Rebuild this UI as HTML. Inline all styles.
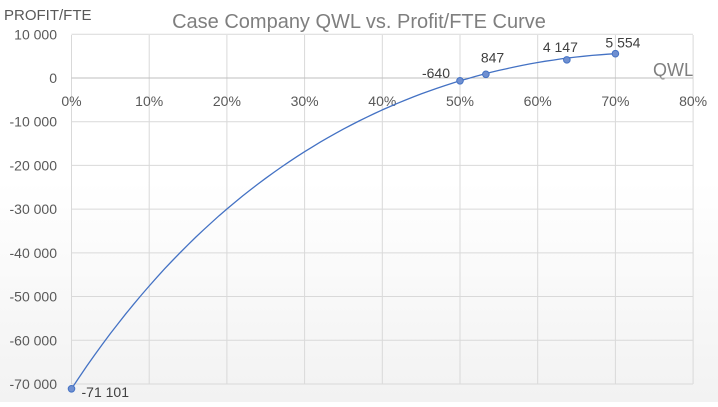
<!DOCTYPE html>
<html><head><style>
body{margin:0;width:718px;height:402px;overflow:hidden;background:linear-gradient(#fff 0%,#fff 45%,#f2f2f2 100%);font-family:"Liberation Sans",sans-serif}
</style></head><body>
<svg id="s" width="718" height="402" xmlns="http://www.w3.org/2000/svg" font-family="Liberation Sans, sans-serif">
<text x="359" y="28" font-size="20" fill="#7f7f7f" text-anchor="middle">Case Company QWL vs. Profit/FTE Curve</text>
<text x="4" y="20" font-size="15" fill="#595959">PROFIT/FTE</text>
<text x="694" y="76" font-size="18" fill="#7f7f7f" text-anchor="end">QWL</text>
<g id="g"></g>
</svg>
<script>
var g=document.getElementById('g'),h='';
var X=function(p){return 71.5+p*777};var Y=function(v){return 78-v*0.004371};
for(var i=0;i<=8;i++){var x=X(i/10);h+='<line x1="'+x+'" y1="35" x2="'+x+'" y2="384" stroke="#d9d9d9"/>';
h+='<text x="'+x+'" y="106" font-size="14" fill="#595959" text-anchor="middle">'+(i*10)+'%</text>';}
for(var v=10000;v>=-70000;v-=10000){var y=Y(v);if(v!=0)h+='<line x1="71.5" y1="'+y+'" x2="693" y2="'+y+'" stroke="#d9d9d9"/>';
var s=v==0?'0':(v<0?'-':'')+Math.abs(v/1000)+' 000';h+='<text x="57" y="'+(y+5)+'" font-size="14" fill="#595959" text-anchor="end">'+s+'</text>';}
h+='<line x1="71.5" y1="78" x2="693" y2="78" stroke="#bfbfbf"/>';
function f(x){var e=10716-81817*Math.pow(0.674,x*10);var q=-71101+219458*x-157071*x*x;return (e+q)/2;}
var d='';for(var k=0;k<=70;k++){var x=k/100;d+=(k?'L':'M')+X(x).toFixed(1)+' '+Y(f(x)).toFixed(1);}
h+='<path d="'+d+'" fill="none" stroke="#4472c4" stroke-width="1.3"/>';
var pts=[[0,-71101,'-71 101',10,8,'start'],[0.5,-640,'-640',-10,-3,'end'],[0.5333,847,'847',-5,-12,'start'],[0.6375,4147,'4 147',-24,-8,'start'],[0.7,5554,'5 554',-10,-6,'start']];
pts.forEach(function(p){var x=X(p[0]),y=Y(p[1]);h+='<circle cx="'+x+'" cy="'+y+'" r="3.3" fill="#6f8fd0" stroke="#4472c4"/>';
h+='<text x="'+(x+p[3])+'" y="'+(y+p[4])+'" font-size="14" fill="#404040" text-anchor="'+p[5]+'">'+p[2]+'</text>';});
g.innerHTML=h;
</script>
</body></html>
